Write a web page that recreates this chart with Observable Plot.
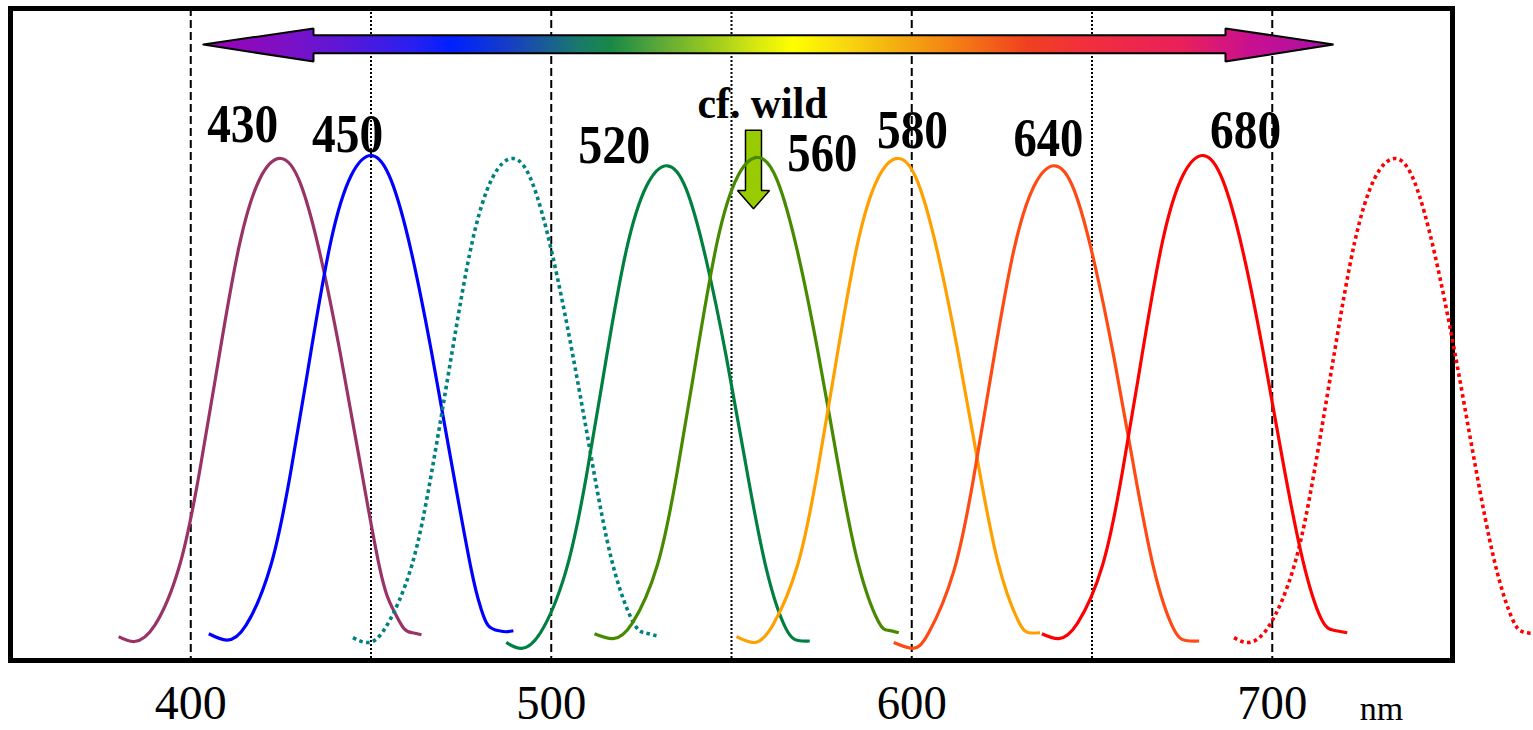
<!DOCTYPE html>
<html><head><meta charset="utf-8">
<script src="https://cdn.jsdelivr.net/npm/d3@7"></script>
<script src="https://cdn.jsdelivr.net/npm/@observablehq/plot@0.6"></script>
<style>body{margin:0;background:#fff}</style>
</head><body><div id="chart"></div>
<script>
// ---- data ----
const wavelengthTicks = [400, 500, 600, 700];
const dashedLines = [400, 500, 600, 700];
const dottedLines = [450, 550, 650];

const curveNames  = ["430", "450", "490", "520", "560", "580", "640", "680", "735"];
const curveColors = ["#993366", "#0000ff", "#008080", "#008040", "#478a00", "#ffa000", "#ff4a14", "#ff0000", "#ff0000"];
const curveDotted = [false, false, true, false, false, false, false, false, true];

const lambda430 = [380, 384.4, 390, 396.9, 402.5, 408.1, 413.6, 419.2, 425, 430.3, 435.8, 441.4, 446.9, 452.5, 456, 459, 461.5, 464];
const resp430   = [0.012, 0.002, 0.035, 0.158, 0.353, 0.598, 0.82, 0.953, 0.994, 0.945, 0.80, 0.597, 0.372, 0.15, 0.07, 0.03, 0.02, 0.016];
const lambda450 = [405, 410, 415.3, 422.2, 427.8, 433.4, 438.9, 444.5, 450.3, 455.6, 461.1, 466.7, 472.2, 477.8, 480.5, 482.5, 485.5, 487.5, 489.5];
const resp450   = [0.018, 0.005, 0.035, 0.158, 0.353, 0.60, 0.825, 0.959, 1.0, 0.949, 0.805, 0.60, 0.374, 0.15, 0.07, 0.035, 0.024, 0.022, 0.024];
const lambda490 = [445, 449.4, 454.4, 461.3, 466.9, 472.5, 478, 483.6, 489.4, 494.7, 500.2, 505.8, 511.3, 516.9, 522.5, 525.8, 529.2];
const resp490   = [0.01, 0.0, 0.035, 0.158, 0.353, 0.597, 0.82, 0.953, 0.994, 0.945, 0.80, 0.597, 0.372, 0.165, 0.045, 0.02, 0.014];
const lambda520 = [487.5, 491.7, 497, 504, 509.7, 515.3, 520.8, 526.4, 532.2, 537.5, 543, 548.6, 554.1, 559.7, 565, 568.5, 571.7];
const resp520   = [0.0, -0.012, 0.02, 0.145, 0.34, 0.585, 0.805, 0.937, 0.979, 0.93, 0.785, 0.585, 0.36, 0.15, 0.03, 0.004, 0.003];
const lambda560 = [512, 517.2, 522.5, 529.4, 535, 540.6, 546.1, 551.7, 557.5, 562.8, 568.3, 573.9, 579.4, 585, 590.6, 593.5, 596.4];
const resp560   = [0.018, 0.008, 0.04, 0.158, 0.353, 0.60, 0.825, 0.957, 0.996, 0.947, 0.803, 0.60, 0.373, 0.166, 0.045, 0.025, 0.02];
const lambda580 = [551.4, 556.4, 561.4, 568.3, 573.9, 579.5, 585, 590.6, 596.4, 601.7, 607.2, 612.8, 618.3, 623.9, 629.5, 632.5, 635.6];
const resp580   = [0.012, 0.0, 0.035, 0.158, 0.353, 0.598, 0.82, 0.953, 0.994, 0.945, 0.80, 0.597, 0.372, 0.165, 0.045, 0.02, 0.02];
const lambda640 = [595, 600.3, 604.7, 611.6, 617.2, 622.8, 628.3, 633.9, 639.7, 645, 650.5, 656.1, 661.6, 667.2, 672.5, 676, 679.7];
const resp640   = [0.0, -0.012, 0.02, 0.145, 0.34, 0.585, 0.805, 0.937, 0.979, 0.93, 0.785, 0.585, 0.36, 0.15, 0.03, 0.004, 0.003];
const lambda680 = [636.1, 640.8, 646, 652.9, 658.5, 664.1, 669.6, 675.2, 681, 686.3, 691.8, 697.4, 702.9, 708.5, 713.5, 717, 720.8];
const resp680   = [0.018, 0.008, 0.04, 0.158, 0.353, 0.60, 0.825, 0.959, 1.0, 0.949, 0.805, 0.60, 0.374, 0.168, 0.05, 0.025, 0.02];
const lambda735 = [689.4, 693.6, 699.2, 706.1, 711.7, 717.3, 722.8, 728.4, 734.2, 739.5, 745, 750.6, 756.1, 761.7, 766.5, 769.5, 772.8];
const resp735   = [0.01, 0.0, 0.035, 0.158, 0.353, 0.598, 0.82, 0.953, 0.994, 0.945, 0.80, 0.597, 0.372, 0.165, 0.05, 0.022, 0.018];

const curveLambdas = [lambda430, lambda450, lambda490, lambda520, lambda560, lambda580, lambda640, lambda680, lambda735];
const curveResps   = [resp430, resp450, resp490, resp520, resp560, resp580, resp640, resp680, resp735];

const peakLabels  = ["430", "450", "520", "560", "580", "640", "680"];
const peakLabelX  = [414.4, 443.5, 517.5, 575.2, 600.2, 637.9, 692.6];
const peakLabelY  = [1.027, 1.008, 0.984, 0.969, 1.015, 1.000, 1.015];

const noteText = "cf. wild";
const noteX = 558.6, noteY = 1.078;
const unitText = "nm";
const unitX = 730.3;

// decorative arrows (in wavelength / response units)
const spectrumArrowX = [403.5, 434.05, 434.05, 687.03, 687.03, 717.0, 687.03, 687.03, 434.05, 434.05, 403.5];
const spectrumArrowY = [1.228, 1.261, 1.247, 1.247, 1.261, 1.228, 1.193, 1.210, 1.210, 1.193, 1.228];
const wildArrowX = [553.88, 558.32, 558.32, 560.54, 556.1, 551.66, 553.88, 553.88];
const wildArrowY = [1.052, 1.052, 0.928, 0.928, 0.891, 0.928, 0.928, 1.052];

const rainbowStops = [
  [0, "#9c00b4"], [0.068, "#8010c4"], [0.127, "#5818d8"], [0.186, "#2820f0"], [0.219, "#0020ff"],
  [0.274, "#1840c0"], [0.333, "#1a7a6a"], [0.36, "#188848"], [0.403, "#5aa838"], [0.447, "#98c820"],
  [0.49, "#d8e810"], [0.522, "#ffff00"], [0.567, "#f8d810"], [0.611, "#f4b010"], [0.664, "#f48014"],
  [0.729, "#f04020"], [0.779, "#f0303c"], [0.867, "#e8205c"], [0.927, "#c81090"], [1, "#a810a8"]
];

// ---- build ----
const spectrumArrow = spectrumArrowX.map((x, i) => ({x, y: spectrumArrowY[i]}));
const wildArrow = wildArrowX.map((x, i) => ({x, y: wildArrowY[i]}));
const labels = peakLabels.map((t, i) => ({t, x: peakLabelX[i], y: peakLabelY[i]}));

const serif = "'Liberation Serif','Times New Roman',serif";

const curveMarks = curveNames.map((name, k) => {
  const rows = curveLambdas[k].map((l, i) => ({l, r: curveResps[k][i]}));
  return Plot.line(rows, {
    x: "l", y: "r", curve: "natural",
    stroke: curveColors[k], strokeWidth: curveDotted[k] ? 3.6 : 3.2,
    strokeDasharray: curveDotted[k] ? "3.6,3.4" : null,
    strokeLinecap: "butt"
  });
});

const svg = Plot.plot({
  width: 1533, height: 730,
  marginLeft: 10, marginRight: 81, marginTop: 8, marginBottom: 70,
  x: {domain: [350, 750], axis: null},
  y: {domain: [-0.037, 1.302], axis: null},
  style: {background: "white", fontFamily: serif, color: "black"},
  marks: [
    Plot.ruleX(dashedLines, {stroke: "black", strokeWidth: 2, strokeDasharray: "8,4"}),
    Plot.ruleX(dottedLines, {stroke: "black", strokeWidth: 2, strokeDasharray: "2,2"}),
    Plot.line(spectrumArrow, {x: "x", y: "y", fill: "url(#rainbow)", stroke: "black", strokeWidth: 2, strokeLinejoin: "miter"}),
    Plot.line(wildArrow, {x: "x", y: "y", fill: "#99cc00", stroke: "black", strokeWidth: 1.5, strokeLinejoin: "miter"}),
    Plot.frame({stroke: "black", strokeWidth: 5}),
    ...curveMarks,
    Plot.text(labels, {x: "x", y: "y", text: "t", fontSize: 54, fontWeight: "bold", lineAnchor: "bottom", fill: "black", fontFamily: serif}),
    Plot.text([noteText], {x: () => noteX, y: () => noteY, text: d => d, fontSize: 44, fontWeight: "bold", lineAnchor: "bottom", fill: "black", fontFamily: serif}),
    Plot.axisX(wavelengthTicks, {tickSize: 0, tickPadding: 24, fontSize: 48, label: null, fontFamily: serif}),
    Plot.text([unitText], {x: () => unitX, frameAnchor: "bottom", dy: 59, text: d => d, fontSize: 34, lineAnchor: "bottom", fill: "black", fontFamily: serif})
  ]
});

// gradient for the spectrum arrow
const defs = d3.select(svg).insert("defs", ":first-child");
const grad = defs.append("linearGradient").attr("id", "rainbow").attr("x1", "0%").attr("x2", "100%").attr("y1", "0%").attr("y2", "0%");
rainbowStops.forEach(([o, c]) => grad.append("stop").attr("offset", o).attr("stop-color", c));

// condense glyphs like the original
const lengths = {"430": 71, "450": 71, "520": 72, "560": 70, "580": 71, "640": 70, "680": 71, "cf. wild": 130,
                 "400": 72, "500": 70, "600": 70, "700": 70};
d3.select(svg).selectAll("text").each(function() {
  const t = this.textContent;
  if (lengths[t]) d3.select(this).attr("textLength", lengths[t]).attr("lengthAdjust", "spacingAndGlyphs");
});

document.getElementById("chart").appendChild(svg);
</script>
</body></html>
